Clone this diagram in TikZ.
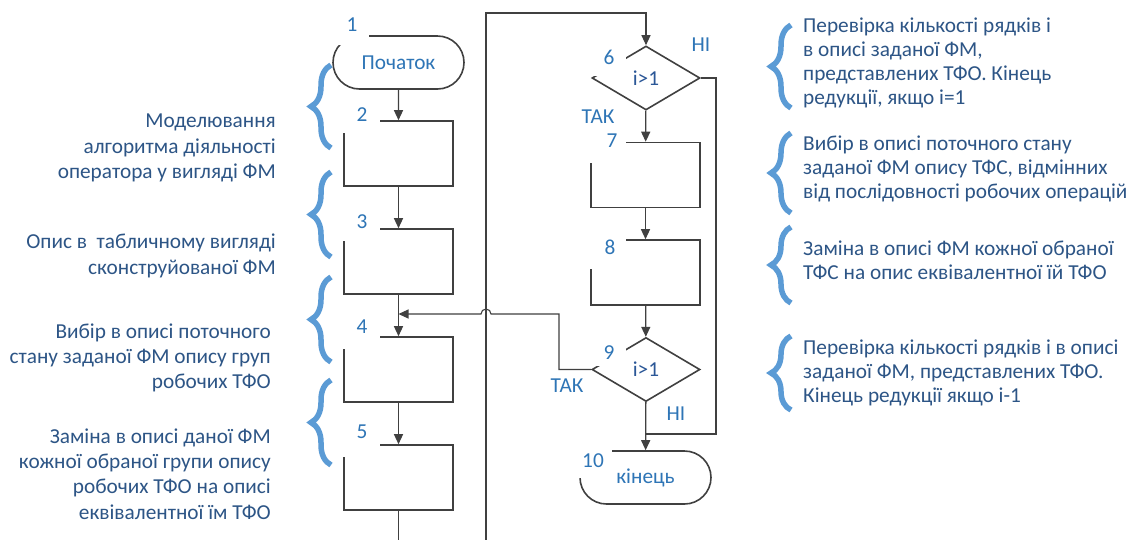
\documentclass[tikz,border=0pt]{standalone}
\usepackage{fontspec}
\setmainfont{Carlito}
\usetikzlibrary{shapes.geometric,shapes.misc,arrows.meta,decorations.pathreplacing}
\definecolor{lc}{HTML}{404040}
\definecolor{numc}{HTML}{2E75B6}
\definecolor{dc}{HTML}{2D5586}
\definecolor{ic}{HTML}{2B5797}
\definecolor{bc}{HTML}{5B9BD5}
\tikzset{
  proc/.style={draw=lc, line width=1.6pt, minimum width=109pt, minimum height=65pt, inner sep=0pt},
  term/.style={rounded rectangle, draw=lc, line width=1.6pt, minimum width=131pt, minimum height=53pt, inner sep=0pt, text=numc},
  dec/.style={diamond, draw=lc, line width=1.6pt, minimum width=108pt, minimum height=64pt, inner sep=0pt, text=ic},
  arr/.style={draw=lc, line width=1.3pt, -{Triangle[length=10pt,width=9pt]}},
  conn/.style={draw=lc, line width=1.1pt},
  num/.style={text=numc, inner sep=0pt},
  desc/.style={text=dc, inner sep=0pt},
  ldesc/.style={desc, anchor=east, align=right, font=\fontsize{21.3}{25.3}\selectfont},
  rdesc/.style={desc, anchor=west, align=left},
  br/.style={draw=bc, line width=5.5pt, decorate, decoration={brace, amplitude=20pt}},
  mask/.style={fill=white},
}
\begin{document}
\begin{tikzpicture}[x=1pt,y=-1pt,font=\fontsize{21.3}{24.2}\selectfont]
\useasboundingbox[fill=white] (0,0) rectangle (1130,539);

% left column
\node[term] (start) at (398.5,62.5) {Початок};
\node[proc] (b2) at (398.5,153.5) {};
\node[proc] (b3) at (398.5,261.5) {};
\node[proc] (b4) at (398.5,369.5) {};
\node[proc] (b5) at (398.5,477.5) {};
% right column
\node[dec] (d6) at (646,78) {i>1};
\node[proc] (b7) at (645.5,175) {};
\node[proc] (b8) at (645.5,272.5) {};
\node[dec] (d9) at (646,369.5) {i>1};
\node[term] (end) at (645.5,477.5) {кінець};

\coordinate (m) at (398.5,314);
\coordinate (tk) at (559,314);
\coordinate (nj) at (646,434);

\draw[arr] (start) -- (b2);
\draw[arr] (b2) -- (b3);
\draw[arr] (b3) -- (b4);
\draw[arr] (b4) -- (b5);
\draw[arr] (d6) -- (b7);
\draw[arr] (b7) -- (b8);
\draw[arr] (b8) -- (d9);
\draw[arr] (d9) -- (end);
\draw[conn] (d6.east) -- (716,78) |- (nj);
\draw[conn, -{Triangle[length=10pt,width=9pt]}] (b5.south) -- (398.5,580) -- (486,580) -- (486,13) -| (d6.north);
\draw[conn, -{Triangle[length=10pt,width=9pt]}] (d9.west) -| (tk) -- (491,314) arc[start angle=0, end angle=-180, radius=5] -- (m);

% masks behind numbers
\fill[mask] (333,10) rectangle (369,45);
\fill[mask] (343,100) rectangle (380,133);
\fill[mask] (343,208) rectangle (380,241);
\fill[mask] (343,316) rectangle (380,349);
\fill[mask] (343,424) rectangle (380,457);
\fill[mask] (590,50) rectangle (626,76);
\fill[mask] (590,124) rectangle (626,163);
\fill[mask] (590,225) rectangle (626,269);
\fill[mask] (590,340) rectangle (626,366);
\fill[mask] (578,440) rectangle (612,478);

% numbers
\node[num] (n1) at (352,25) {1};
\node[num] (n2) at (362,115) {2};
\node[num] (n3) at (362,222) {3};
\node[num] (n4) at (362,327) {4};
\node[num] (n5) at (362,432) {5};
\node[num] (n6) at (609,57) {6};
\node[num] (n7) at (612,141) {7};
\node[num] (n8) at (610,247) {8};
\node[num] (n9) at (609,353) {9};
\node[num] (n10) at (593,461) {10};
\node[num] (no6) at (701,45) {НІ};
\node[num] (yes6) at (598,117) {ТАК};
\node[num] (yes9) at (567,386) {ТАК};
\node[num] (no9) at (676,414) {НІ};

% left descriptions
\node[ldesc] (t1) at (276,148) {Моделювання\\алгоритма діяльності\\оператора у вигляді ФМ};
\node[ldesc] (t2) at (276,256) {Опис в\ \ табличному вигляді\\сконструйованої ФМ};
\node[ldesc] (t3) at (271,358) {Вибір в описі поточного\\стану заданої ФМ опису груп\\робочих ТФО};
\node[ldesc] (t4) at (271,474) {Заміна в описі даної ФМ\\кожної обраної групи опису\\робочих ТФО на описі\\еквівалентної їм ТФО};

% right descriptions
\node[rdesc] (r1) at (803,63) {Перевірка кількості рядків і\\в описі заданої ФМ,\\представлених ТФО. Кінець\\редукції, якщо і=1};
\node[rdesc] (r2) at (803,169) {Вибір в описі поточного стану\\заданої ФМ опису ТФС, відмінних\\від послідовності робочих операцій};
\node[rdesc] (r3) at (803,260) {Заміна в описі ФМ кожної обраної\\ТФС на опис еквівалентної їй ТФО};
\node[rdesc] (r4) at (803,373) {Перевірка кількості рядків і в описі\\заданої ФМ, представлених ТФО.\\Кінець редукції якщо і-1};

% braces
\draw[br] (331,148) -- (331,65);
\draw[br] (331,257) -- (331,172);
\draw[br] (331,362) -- (331,277);
\draw[br] (331,465) -- (331,380);
\draw[br] (791,108) -- (791,25);
\draw[br] (791,213) -- (791,133);
\draw[br] (791,303) -- (791,227);
\draw[br] (791,410) -- (791,336);
\end{tikzpicture}
\end{document}
